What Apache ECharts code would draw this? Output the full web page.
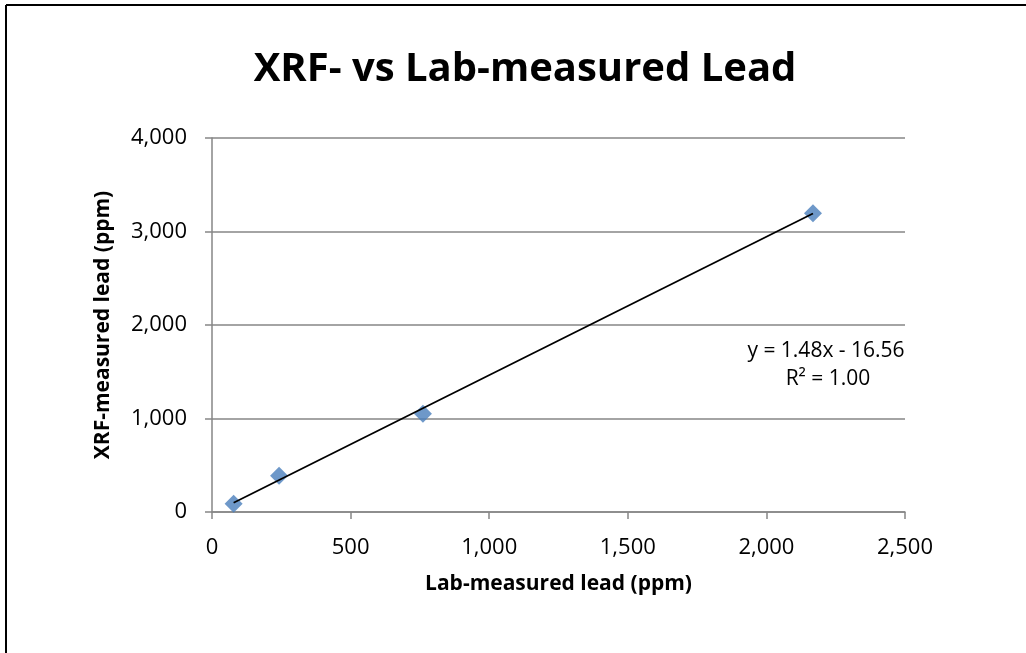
<!DOCTYPE html>
<html>
<head>
<meta charset="utf-8">
<script src="https://cdn.jsdelivr.net/npm/echarts@6/dist/echarts.min.js"></script>
<style>
  html, body { margin: 0; padding: 0; background: #fff; overflow: hidden; }
  #chart { width: 1026px; height: 653px; }
</style>
</head>
<body>
<div id="chart"></div>
<script>
// lab vs xrf lead readings (ppm)
const labLead = [78, 242, 761, 2168];
const xrfLead = [89, 389, 1051, 3196];
// linear trendline end points as drawn
const trendX = [78, 2168];
const trendY = [99, 3192];
const eqText = ['y = 1.48x - 16.56', 'R² = 1.00'];

const font = '"Open Sans", "Noto Sans", sans-serif';

const chart = echarts.init(document.getElementById('chart'));
chart.setOption({
  animation: false,
  backgroundColor: '#fff',
  title: {
    text: 'XRF- vs Lab-measured Lead',
    left: 520, top: 45, textAlign: 'center',
    textStyle: { fontFamily: font, fontWeight: 'bold', fontSize: 40, color: '#000' }
  },
  grid: { left: 212, right: 121, top: 138, bottom: 141 },
  xAxis: {
    type: 'value', min: 0, max: 2500, interval: 500,
    name: 'Lab-measured lead (ppm)', nameLocation: 'middle', nameGap: 62,
    nameTextStyle: { fontFamily: font, fontWeight: 'bold', fontSize: 21, color: '#000' },
    axisLine: { show: true, lineStyle: { color: '#868686', width: 1.5 } },
    axisTick: { show: true, inside: false, length: 7, lineStyle: { color: '#868686', width: 1.5 } },
    axisLabel: { fontFamily: font, fontSize: 22, color: '#000', margin: 25,
      formatter: v => v.toLocaleString('en-US') },
    splitLine: { show: false }
  },
  yAxis: {
    type: 'value', min: 0, max: 4000, interval: 1000,
    name: 'XRF-measured lead (ppm)', nameLocation: 'middle', nameGap: 98,
    nameTextStyle: { fontFamily: font, fontWeight: 'bold', fontSize: 21, color: '#000' },
    axisLine: { show: true, lineStyle: { color: '#868686', width: 1.5 } },
    axisTick: { show: true, inside: false, length: 7, lineStyle: { color: '#868686', width: 1.5 } },
    axisLabel: { fontFamily: font, fontSize: 22, color: '#000', margin: 25,
      formatter: v => v.toLocaleString('en-US') },
    splitLine: { show: true, lineStyle: { color: '#868686', width: 1.5 } }
  },
  graphic: [
    { type: 'line', shape: { x1: 6, y1: 5, x2: 1026, y2: 5 }, z: 100, silent: true,
      style: { stroke: '#000', lineWidth: 2 } },
    { type: 'line', shape: { x1: 6, y1: 5, x2: 6, y2: 653 }, z: 100, silent: true,
      style: { stroke: '#000', lineWidth: 2 } },
    { type: 'text', x: 826, y: 351, z: 50,
      style: { text: eqText[0], fontFamily: font, fontSize: 21, fill: '#000', textAlign: 'center', textVerticalAlign: 'middle' } },
    { type: 'text', x: 828, y: 379, z: 50,
      style: { text: eqText[1], fontFamily: font, fontSize: 21, fill: '#000', textAlign: 'center', textVerticalAlign: 'middle' } }
  ],
  series: [
    {
      name: 'XRF', type: 'scatter',
      symbol: 'path://M0,-1L1,0L0,1L-1,0Z', symbolSize: 18,
      itemStyle: { color: '#4A7EBB' },
      data: labLead.map((x, i) => [x, xrfLead[i]]),
      z: 3
    },
    {
      name: 'Trend', type: 'line', showSymbol: false,
      lineStyle: { color: '#000', width: 1.8 },
      data: trendX.map((x, i) => [x, trendY[i]]),
      z: 4
    }
  ]
});
</script>
</body>
</html>
